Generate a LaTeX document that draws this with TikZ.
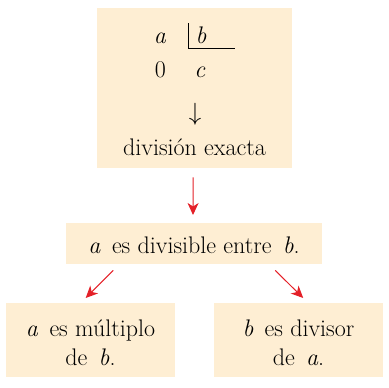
\documentclass[tikz,border=0pt]{standalone}
\usetikzlibrary{arrows.meta,calc}
\definecolor{boxfill}{RGB}{254,238,211}
\definecolor{arrred}{RGB}{228,32,40}
\begin{document}
\begin{tikzpicture}[x=1pt,y=-1pt,
  box/.style={fill=boxfill,draw=none,inner sep=0pt,anchor=north west},
  txt/.style={anchor=base,inner sep=0pt,font=\rmfamily\fontsize{24}{29}\selectfont},
  arr/.style={draw=arrred,line width=1pt,-{Stealth[length=12pt,width=11pt,inset=3.5pt]}}]
\useasboundingbox (0,0) rectangle (389,388);
% boxes
\node[box,minimum width=195pt,minimum height=160pt] (top) at (97,8) {};
\node[box,minimum width=256pt,minimum height=41pt] (mid) at (66,223) {};
\node[box,minimum width=169pt,minimum height=74pt] (bl) at (6,303) {};
\node[box,minimum width=169pt,minimum height=74pt] (br) at (214,303) {};
% division scheme
\node[txt] (ta) at (160,43) {\textit{a}};
\node[txt] (tb) at (201,43) {\textit{b}};
\node[txt] (t0) at (160.5,77) {0};
\node[txt] (tc) at (200,77) {\textit{c}};
\coordinate (bartop) at (188,23);
\coordinate (barcorner) at (188,48);
\coordinate (barend) at (235,48);
\draw[line width=0.9pt] (bartop) -- (barcorner) -- (barend);
\node[txt,font=\fontsize{34}{34}\selectfont] (tarrow) at (195,120) {$\downarrow$};
\node[txt] (tdiv) at (194.5,155) {división exacta};
% middle
\node[txt] (tmid) at (194,253) {\textit{a}\, es divisible entre\, \textit{b}.};
% bottom
\node[txt] (tbl1) at (90.5,336) {\textit{a}\, es múltiplo};
\node[txt] (tbl2) at (90.5,365) {de\, \textit{b}.};
\node[txt] (tbr1) at (298.5,336) {\textit{b}\, es divisor};
\node[txt] (tbr2) at (298.5,365) {de\, \textit{a}.};
% arrows
\draw[arr] ([xshift=-1.5pt,yshift=-9pt]top.south) -- ([yshift=8pt]mid.north -| 193,0);
\draw[arr] ([xshift=-81pt,yshift=-6pt]mid.south) -- ([xshift=-5pt,yshift=5pt]bl.north);
\draw[arr] ([xshift=81pt,yshift=-6pt]mid.south) -- ([xshift=4.5pt,yshift=5pt]br.north);
\end{tikzpicture}
\end{document}
